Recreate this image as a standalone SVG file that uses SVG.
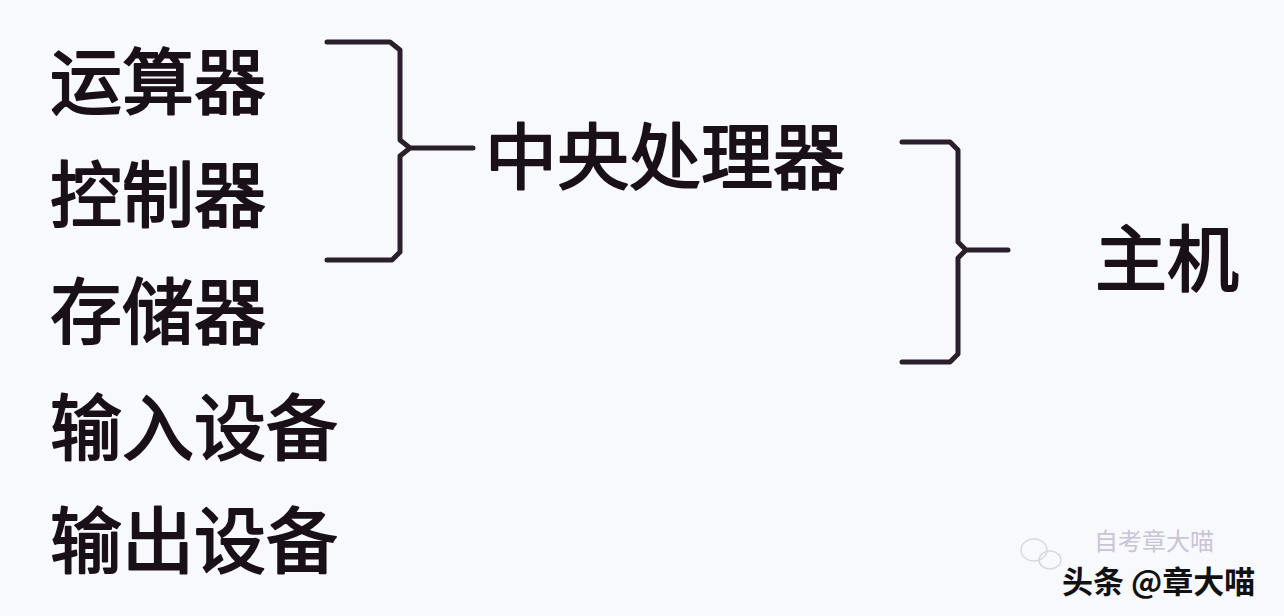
<svg xmlns="http://www.w3.org/2000/svg" width="1284" height="616" viewBox="0 0 1284 616">
<style>
.t{font-family:"Noto Sans CJK SC","Noto Sans",sans-serif;font-size:72px;font-weight:400;fill:#1a101a;stroke:#1a101a;stroke-width:2;stroke-linejoin:round}
.br{fill:none;stroke:#2b1f2b;stroke-width:5;stroke-linejoin:round;stroke-linecap:round}
.wm{font-family:"Noto Sans CJK SC","Noto Sans",sans-serif;font-size:31px;font-weight:700;fill:#111}
.wm2{font-family:"Noto Sans CJK SC","Noto Sans",sans-serif;font-size:24px;fill:#c9c4d6}
</style>
<rect width="1284" height="616" fill="#f8f9fc"/>
<g id="node-alu"><text class="t" x="50" y="108">运算器</text></g>
<g id="node-ctrl"><text class="t" x="50" y="221">控制器</text></g>
<g id="node-mem"><text class="t" x="50" y="338">存储器</text></g>
<g id="node-in"><text class="t" x="50" y="454">输入设备</text></g>
<g id="node-out"><text class="t" x="50" y="567">输出设备</text></g>
<g id="node-cpu"><text class="t" x="485" y="183">中央处理器</text></g>
<g id="node-host"><text class="t" x="1095" y="285">主机</text></g>
<g id="connectors">
<path class="br" d="M327,42 H390 L400,50 V140 L410,148 H473 M410,148 L400,156 V252 L392,260 H327"/>
<path class="br" d="M902,142 H950 L958,150 V242 L966,250 H1008 M966,250 L958,258 V354 L950,362 H902"/>
</g>
<g id="watermark">
<ellipse cx="1034" cy="550" rx="13" ry="11" fill="none" stroke="#d8d8de" stroke-width="1.5"/>
<ellipse cx="1050" cy="560" rx="11" ry="9" fill="none" stroke="#d8d8de" stroke-width="1.5"/>
<text class="wm2" x="1094" y="550">自考章大喵</text>
<text class="wm" x="1062" y="593">头条 @章大喵</text>
</g>
</svg>
